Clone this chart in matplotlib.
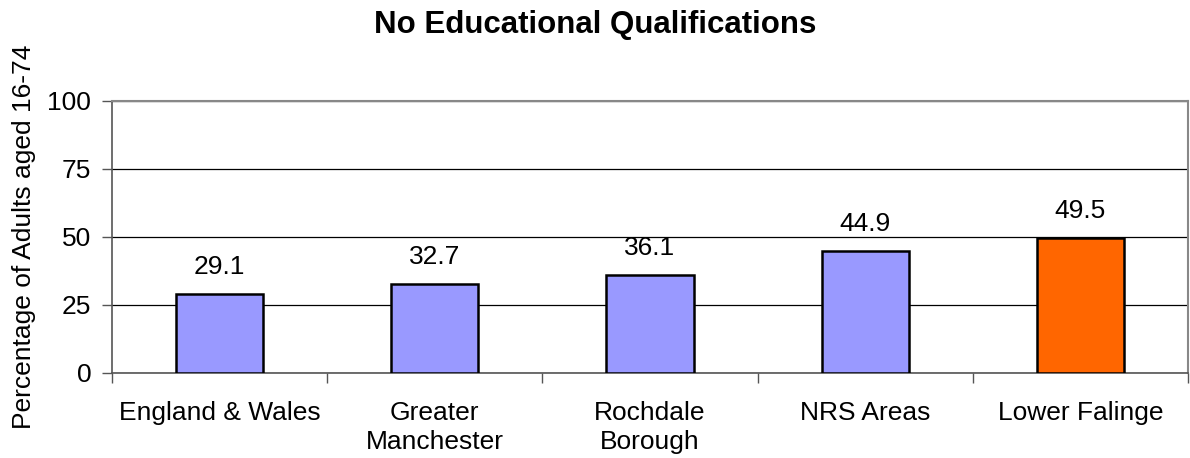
import matplotlib
matplotlib.use("Agg")
import matplotlib.pyplot as plt
import numpy as np

categories = ["England & Wales", "Greater\nManchester", "Rochdale\nBorough", "NRS Areas", "Lower Falinge"]
values = [29.1, 32.7, 36.1, 44.9, 49.5]
colors = ["#9999FF", "#9999FF", "#9999FF", "#9999FF", "#FF6600"]
yticks = [0, 25, 50, 75, 100]

plt.rcParams['font.family'] = ['Liberation Sans', 'DejaVu Sans']

fig = plt.figure(figsize=(11.9, 4.58), dpi=100)
ax = fig.add_axes([112/1190, 1-373/458, (1188-112)/1190, (373-101)/458])

x = np.arange(len(categories))
ax.bar(x, values, width=0.405, color=colors, edgecolor="black", linewidth=1.8, zorder=3)
for xi, v in zip(x, values):
    ax.annotate(f"{v:.1f}", (xi, v), xytext=(0, 11), textcoords="offset points",
                ha="center", va="bottom", fontsize=19)

ax.set_xlim(-0.5, len(categories) - 0.5)
ax.set_ylim(0, 100)
ax.set_yticks(yticks)
ax.set_yticklabels([str(t) for t in yticks], fontsize=19)
ax.yaxis.grid(True, color="black", linewidth=0.9, zorder=0)
ax.set_axisbelow(True)

ax.set_xticks(x)
ax.set_xticklabels(categories, fontsize=19, linespacing=1.25)
ax.tick_params(axis="x", length=0, pad=20)
ax.set_xticks(np.arange(len(categories) + 1) - 0.5, minor=True)
ax.tick_params(axis="x", which="minor", length=7, color="#555555", width=1)
ax.tick_params(axis="y", length=7, color="#555555", width=1, pad=8)

for s in ["top", "right"]:
    ax.spines[s].set_color("#888888")
    ax.spines[s].set_linewidth(1.5)
for s in ["left", "bottom"]:
    ax.spines[s].set_color("#555555")
    ax.spines[s].set_linewidth(1.2)

ax.set_ylabel("Percentage of Adults aged 16-74", fontsize=19, labelpad=8)
fig.suptitle("No Educational Qualifications", fontsize=22.5, fontweight="bold", y=0.978)

fig.savefig("out.png", dpi=100)
